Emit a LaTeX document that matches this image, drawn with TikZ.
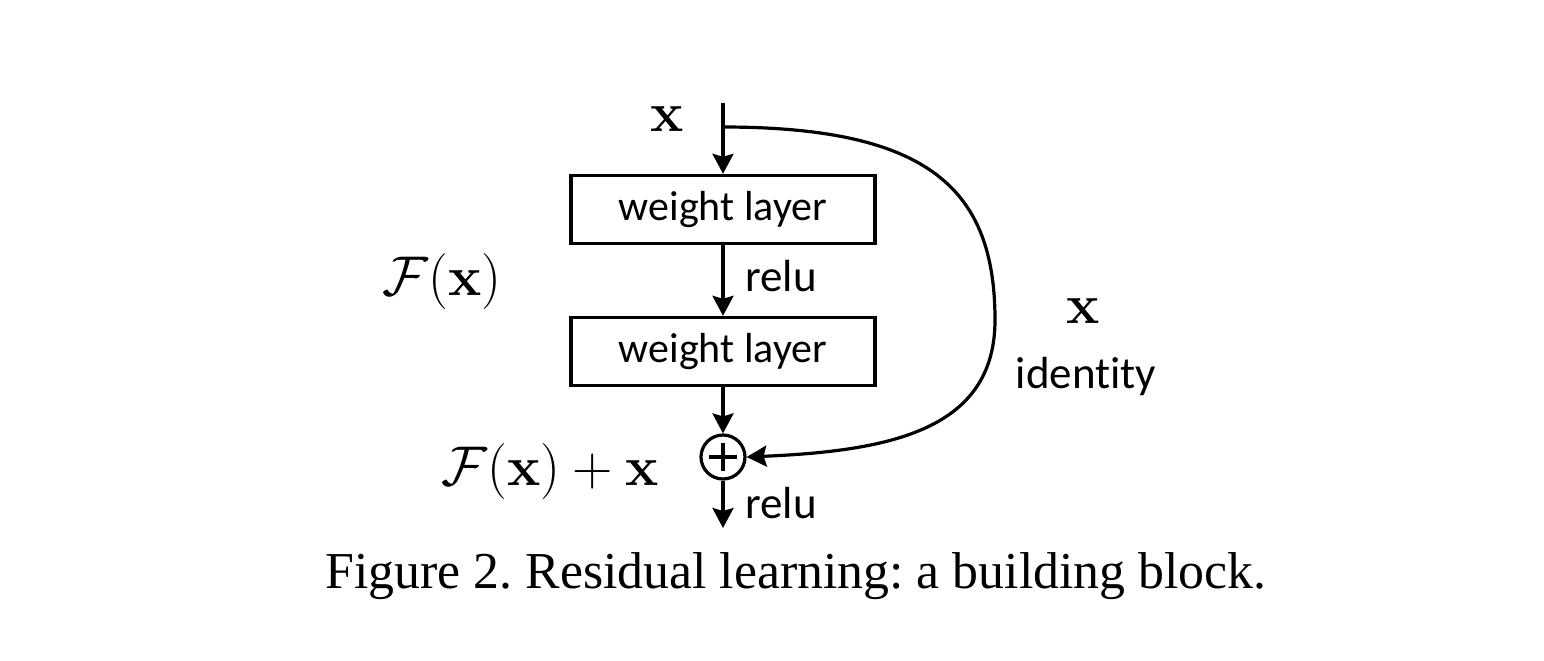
\RequirePackage{fix-cm}
\documentclass[tikz,border=0pt]{standalone}
\usepackage[no-math]{fontspec}
\setmainfont{Liberation Serif}
\setsansfont{Carlito}[Ligatures=NoCommon]
\usetikzlibrary{arrows.meta}
\tikzset{
  layerbox/.style={draw, line width=1.7pt, minimum width=152pt, minimum height=34pt, inner sep=0pt,
    font=\sffamily\fontsize{21}{24}\selectfont},
  sumnode/.style={draw, circle, line width=1.6pt, minimum size=22pt, inner sep=0pt},
  conn/.style={line width=1.6pt, -{Stealth[length=10pt,width=10.5pt,inset=1.5pt]}},
  plain/.style={line width=1.6pt},
  lbl/.style={font=\sffamily\fontsize{22.5}{26}\selectfont, inner sep=0pt},
  mlbl/.style={font=\fontsize{28}{32}\selectfont, inner sep=0pt},
  xlbl/.style={font=\fontsize{28}{32}\selectfont, inner sep=0pt},
  captext/.style={font=\rmfamily\fontsize{25.9}{30}\selectfont, inner sep=0pt}
}
\begin{document}
\frenchspacing
\begin{tikzpicture}[x=0.5pt,y=-0.5pt]
\useasboundingbox[fill=white] (0,0) rectangle (1544,660);
% nodes
\coordinate (in) at (723,103);
\coordinate (split) at (723,127);
\node[layerbox] (w1) at (723,209.5) {weight layer};
\node[layerbox] (w2) at (723,351.5) {weight layer};
\node[sumnode] (plus) at (723,457) {};
\coordinate (out) at (723,528);
\coordinate (mid1) at (995,320);
% plus sign
\draw[plain] ([xshift=-7pt]plus.center) -- ([xshift=7pt]plus.center);
\draw[plain] ([yshift=-7pt]plus.center) -- ([yshift=7pt]plus.center);
% connectors
\draw[conn] (in) -- (w1.north);
\draw[conn] (w1.south) -- (w2.north);
\draw[conn] (w2.south) -- (plus.north);
\draw[conn] (plus.south) -- (out);
\draw[conn] (split) .. controls (930,127) and (995,190) .. (mid1)
  .. controls (995,430) and (890,451) .. (plus.east);
% labels
\node[xlbl, anchor=base] (xtop) at (667,131) {$\mathbf{x}$};
\node[lbl, anchor=base west] (relu1) at (745,291) {relu};
\node[lbl, anchor=base west] (relu2) at (745,518) {relu};
\node[mlbl, anchor=base] (fx) at (442,295) {$\mathcal{F}(\mathbf{x})$};
\node[mlbl, anchor=base] (fxx) at (550,485) {$\mathcal{F}(\mathbf{x})+\mathbf{x}$};
\node[xlbl, anchor=base] (xright) at (1083,323) {$\mathbf{x}$};
\node[lbl, anchor=base] (ident) at (1086,388) {identity};
\node[captext, anchor=base] (caption) at (796,588) {Figure 2. Residual learning: a building block.};
\end{tikzpicture}
\end{document}
